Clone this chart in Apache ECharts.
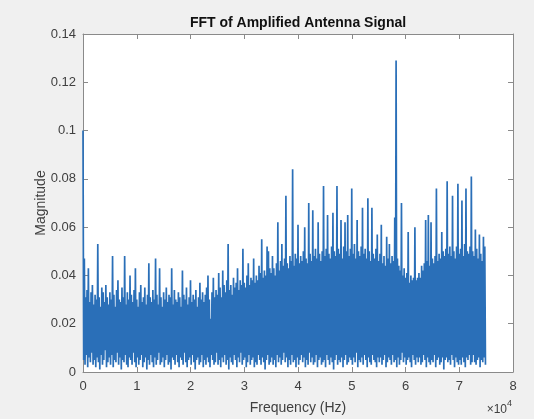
<!DOCTYPE html>
<html><head><meta charset="utf-8">
<script src="https://cdn.jsdelivr.net/npm/echarts@6/dist/echarts.min.js"></script>
<style>html,body{margin:0;padding:0;background:#f0f0f0}#c{width:534px;height:419px}</style>
</head><body><div id="c"></div>
<script>
// FFT bins alternate: even bins read from the upper (peak) edge, odd bins from the lower edge
const binStepHz = 125;
const upperMag = [
.100,.047,.031,.034,.043,.029,.033,.036,.028,.032,
.030,.053,.031,.027,.035,.033,.029,.036,.031,.028,
.033,.030,.048,.032,.027,.034,.038,.030,.029,.035,
.031,.048,.028,.033,.030,.040,.032,.029,.034,.043,
.030,.027,.033,.036,.029,.031,.035,.028,.032,.045,
.031,.029,.034,.030,.047,.032,.028,.043,.031,.027,
.033,.030,.035,.029,.032,.031,.043,.028,.034,.030,
.029,.033,.031,.027,.042,.032,.030,.035,.028,.031,
.038,.029,.032,.030,.034,.027,.031,.037,.030,.033,
.029,.032,.035,.040,.030,.022,.033,.039,.031,.034,
.032,.041,.035,.031,.042,.036,.033,.038,.053,.034,
.036,.032,.039,.035,.037,.043,.034,.038,.036,.051,
.037,.035,.040,.045,.036,.039,.038,.047,.037,.040,
.038,.044,.041,.055,.039,.042,.040,.052,.050,.043,
.041,.048,.043,.040,.045,.062,.042,.046,.053,.044,
.047,.073,.045,.043,.048,.046,.084,.044,.049,.047,
.061,.045,.048,.046,.050,.060,.047,.045,.070,.049,
.046,.067,.048,.051,.047,.062,.049,.046,.050,.077,
.048,.051,.065,.049,.047,.052,.066,.050,.048,.077,
.051,.049,.063,.047,.052,.062,.050,.065,.048,.051,
.076,.049,.053,.047,.063,.050,.048,.052,.068,.049,
.051,.047,.072,.050,.046,.068,.049,.047,.051,.057,
.046,.049,.061,.045,.048,.044,.056,.047,.053,.045,
.048,.046,.064,.129,.047,.044,.042,.070,.040,.043,
.039,.041,.058,.037,.040,.038,.039,.060,.038,.039,
.041,.039,.044,.042,.045,.063,.046,.065,.044,.062,
.047,.045,.048,.076,.046,.049,.047,.058,.050,.048,
.051,.079,.049,.052,.048,.073,.050,.047,.052,.078,
.049,.051,.071,.048,.053,.076,.050,.049,.052,.081,
.050,.048,.059,.051,.047,.057,.049,.046,.056,.052
];
const lowerMag = [
.005,.003,.007,.002,.006,.004,.008,.003,.005,.002,
.006,.004,.001,.007,.003,.005,.009,.002,.004,.006,
.003,.007,.002,.005,.004,.008,.003,.006,.001,.005,
.004,.007,.003,.002,.006,.005,.003,.008,.004,.002,
.006,.003,.005,.007,.002,.004,.006,.001,.005,.003,
.007,.004,.002,.006,.003,.005,.008,.003,.004,.006,
.002,.005,.007,.003,.004,.001,.006,.005,.003,.007,
.004,.002,.006,.005,.003,.008,.004,.002,.005,.006,
.003,.007,.004,.001,.005,.006,.003,.004,.007,.002,
.005,.003,.006,.004,.002,.007,.005,.003,.004,.008,
.003,.005,.002,.006,.004,.007,.003,.005,.001,.006,
.004,.003,.007,.005,.002,.006,.004,.008,.003,.005,
.006,.002,.004,.007,.003,.005,.006,.002,.004,.003,
.007,.005,.003,.006,.004,.001,.005,.007,.003,.004,
.006,.003,.005,.002,.007,.004,.006,.003,.005,.008,
.004,.006,.002,.005,.003,.007,.004,.005,.002,.006,
.003,.005,.007,.004,.006,.002,.005,.003,.008,.004,
.006,.003,.004,.007,.002,.005,.006,.003,.004,.005,
.002,.007,.005,.003,.006,.004,.001,.005,.007,.003,
.005,.004,.006,.002,.005,.007,.003,.004,.006,.005,
.003,.006,.004,.008,.002,.005,.004,.006,.003,.007,
.005,.002,.006,.004,.003,.007,.005,.004,.002,.006,
.004,.006,.003,.005,.007,.002,.004,.006,.005,.003,
.007,.004,.005,.002,.006,.003,.005,.008,.004,.006,
.003,.005,.006,.004,.002,.007,.005,.003,.006,.004,
.006,.003,.004,.007,.005,.002,.006,.004,.003,.005,
.004,.007,.002,.005,.006,.003,.004,.006,.001,.005,
.006,.004,.005,.003,.007,.005,.002,.006,.004,.003,
.005,.003,.006,.004,.002,.006,.005,.007,.003,.004,
.007,.004,.003,.005,.006,.002,.005,.004,.006,.003
];
const xAxisMax = 80000, xAxisStep = 10000;   // labels shown in units of 10^4
const yAxisMax = 0.14, yAxisStep = 0.02;
const titleText = 'FFT of Amplified Antenna Signal';
const xLabel = 'Frequency (Hz)';
const yLabel = 'Magnitude';

const seriesData = [];
for (let i = 0; i < upperMag.length; i++) {
  seriesData.push([2 * i * binStepHz, upperMag[i]]);
  seriesData.push([(2 * i + 1) * binStepHz, lowerMag[i]]);
}

const FONT = '"Liberation Sans", Arial, Helvetica, sans-serif';
const frame = '#8a8a8a';
const txt = '#404040';
const axisCommon = {
  axisLine: { show: true, onZero: false, lineStyle: { color: frame, width: 1 } },
  axisTick: { show: true, inside: true, length: 5, lineStyle: { color: frame, width: 1 } },
  splitLine: { show: false },
  minorTick: { show: false }
};
const chart = echarts.init(document.getElementById('c'), null, { renderer: 'canvas' });
chart.setOption({
  animation: false,
  backgroundColor: '#f0f0f0',
  grid: { left: 83, top: 34, width: 430, height: 338, show: true, backgroundColor: '#ffffff', borderWidth: 0 },
  xAxis: [
    Object.assign({ type: 'value', min: 0, max: xAxisMax, interval: xAxisStep, position: 'bottom',
      axisLabel: { show: true, color: txt, fontSize: 13, fontFamily: FONT, margin: 8,
        formatter: v => String(Math.round(v / 10000)) } }, axisCommon),
    Object.assign({ type: 'value', min: 0, max: xAxisMax, interval: xAxisStep, position: 'top',
      axisLabel: { show: false } }, axisCommon)
  ],
  yAxis: [
    Object.assign({ type: 'value', min: 0, max: yAxisMax, interval: yAxisStep, position: 'left',
      axisLabel: { show: true, color: txt, fontSize: 13, fontFamily: FONT, margin: 7,
        formatter: v => String(parseFloat(v.toFixed(2))) } }, axisCommon),
    Object.assign({ type: 'value', min: 0, max: yAxisMax, interval: yAxisStep, position: 'right',
      axisLabel: { show: false } }, axisCommon)
  ],
  series: [{
    type: 'line', xAxisIndex: 0, yAxisIndex: 0, data: seriesData,
    symbol: 'none', showSymbol: false, sampling: null, clip: true,
    lineStyle: { color: '#2a6fb8', width: 1.7, join: 'bevel' }, itemStyle: { color: '#2a6fb8' },
    emphasis: { disabled: true }
  }],
  graphic: [
    { type: 'text', x: 298, y: 23, style: { text: titleText, font: 'bold 14px ' + FONT, fill: '#111', textAlign: 'center', textVerticalAlign: 'middle' } },
    { type: 'text', x: 298, y: 408, style: { text: xLabel, font: '14px ' + FONT, fill: txt, textAlign: 'center', textVerticalAlign: 'middle' } },
    { type: 'text', x: 41, y: 203, rotation: Math.PI / 2, style: { text: yLabel, font: '14px ' + FONT, fill: txt, textAlign: 'center', textVerticalAlign: 'middle' } },
    { type: 'text', x: 507, y: 410, style: { text: '\u00d710', font: '12px ' + FONT, fill: txt, textAlign: 'right', textVerticalAlign: 'middle' } },
    { type: 'text', x: 507, y: 404, style: { text: '4', font: '9px ' + FONT, fill: txt, textAlign: 'left', textVerticalAlign: 'middle' } }
  ]
});
</script>
</body></html>
